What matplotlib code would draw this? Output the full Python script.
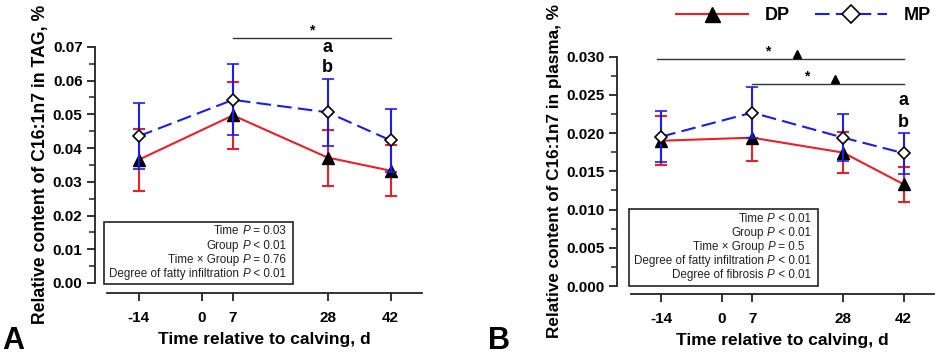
import matplotlib
matplotlib.use("Agg")
import matplotlib.pyplot as plt
from matplotlib.patches import Rectangle

plt.rcParams["font.family"] = ["Liberation Sans", "DejaVu Sans"]

days = [-14, 7, 28, 42]
xticks = [-14, 0, 7, 28, 42]

# Panel A: TAG
tag_dp = [0.0365, 0.0497, 0.0372, 0.0333]
tag_dp_err = [0.0092, 0.0100, 0.0083, 0.0076]
tag_mp = [0.0435, 0.0543, 0.0506, 0.0423]
tag_mp_err = [0.0098, 0.0105, 0.0100, 0.0093]
# (text before P, text after P)
tag_stats = [("Time ", " = 0.03"), ("Group ", " < 0.01"), ("Time \u00d7 Group ", " = 0.76"),
             ("Degree of fatty infiltration ", " < 0.01")]

# Panel B: plasma
pl_dp = [0.0190, 0.0194, 0.01745, 0.0133]
pl_dp_err = [0.0032, 0.0031, 0.0027, 0.0023]
pl_mp = [0.01954, 0.02268, 0.01941, 0.01737]
pl_mp_err = [0.0033, 0.0033, 0.0031, 0.0027]
pl_stats = [("Time ", " < 0.01"), ("Group ", " < 0.01"), ("Time \u00d7 Group ", " = 0.5"),
            ("Degree of fatty infiltration ", " < 0.01"), ("Degree of fibrosis ", " < 0.01")]

RED = "#e8202a"
BLUE = "#1c1cf0"
W, H = 941, 357


def px_axes(left, right, bottom, top):
    return [left / W, (H - bottom) / H, (right - left) / W, (bottom - top) / H]


def style_axes(ax, ytop, ymajor, fmt, left_out, bottom_out):
    ax.spines["top"].set_visible(False)
    ax.spines["right"].set_visible(False)
    ax.spines["left"].set_position(("outward", left_out))
    ax.spines["bottom"].set_position(("outward", bottom_out))
    ax.spines["left"].set_bounds(0, ytop)
    for s in ("left", "bottom"):
        ax.spines[s].set_linewidth(1.3)
        ax.spines[s].set_color("#222222")
    ax.set_xlim(-21, 49)
    ax.set_xticks(xticks)
    ax.set_xticklabels([str(t) for t in xticks], fontweight="bold", fontsize=11)
    n = int(round(ytop / ymajor))
    ax.set_yticks([i * ymajor for i in range(n + 1)])
    ax.set_yticks([(i + 0.5) * ymajor for i in range(n)], minor=True)
    ax.set_yticklabels([fmt.format(t) for t in ax.get_yticks()], fontweight="bold", fontsize=11)
    ax.tick_params(axis="both", which="major", direction="out", length=6, width=1.3, color="#222222")
    ax.tick_params(axis="x", pad=7)
    ax.tick_params(axis="y", pad=3)
    ax.tick_params(axis="y", which="minor", direction="out", length=4, width=1.1, color="#222222")


def draw_series(ax, dp, dp_err, mp, mp_err):
    a = ax.errorbar(days, dp, yerr=dp_err, color=RED, lw=1.5, elinewidth=1.5, capsize=4, capthick=1.5,
                    marker="^", ms=8, mfc="black", mec="black", label="DP", zorder=3, clip_on=False)
    b = ax.errorbar(days, mp, yerr=mp_err, color=BLUE, lw=1.5, elinewidth=1.5, capsize=4, capthick=1.5,
                    ls="--", dashes=(7, 3), marker="D", ms=6.5, mfc="white", mec="black", mew=1.2,
                    label="MP", zorder=4, clip_on=False)
    return [a.lines[0], b.lines[0]]


def stats_box(ax, lines, x0, x1, y0, y1, xr, ys, shifts):
    ax.add_patch(Rectangle((x0, y0), x1 - x0, y1 - y0, transform=ax.transAxes, fill=False,
                           ec="#222222", lw=1.2, clip_on=False, zorder=5))
    kw = dict(fontsize=8.4, color="#222222", zorder=6)
    for (pre, post), y, sh in zip(lines, ys, shifts):
        t_post = ax.text(xr - sh, y, post, transform=ax.transAxes, ha="right", va="center", **kw)
        t_p = ax.annotate("P", xy=(0, 0), xycoords=t_post, ha="right", va="bottom",
                          fontstyle="italic", **kw)
        ax.annotate(pre.rstrip(), xy=(0, 0), xycoords=t_p, xytext=(-2.2, 0),
                    textcoords="offset points", ha="right", va="bottom", **kw)


fig = plt.figure(figsize=(W / 100, H / 100), dpi=100)

# ---- Panel A
axA = fig.add_axes(px_axes(107, 422, 283, 30))
axA.set_ylim(0, 0.075)
draw_series(axA, tag_dp, tag_dp_err, tag_mp, tag_mp_err)
style_axes(axA, 0.07, 0.01, "{:.2f}", 8.6, 7.2)
axA.set_ylabel("Relative content of C16:1n7 in TAG, %", fontweight="bold", fontsize=12.7, labelpad=3)
axA.yaxis.label.set_y(0.47)
axA.set_xlabel("Time relative to calving, d", fontweight="bold", fontsize=12.5, labelpad=5)
axA.plot([7, 42], [0.0725, 0.0725], color="#333333", lw=1, clip_on=False)
axA.text(24.5, 0.0727, "*", ha="center", va="bottom", fontsize=10, fontweight="bold")
axA.text(28, 0.0697, "a", ha="center", va="center", fontsize=13, fontweight="bold")
axA.text(28, 0.0638, "b", ha="center", va="center", fontsize=13, fontweight="bold")
stats_box(axA, tag_stats, -0.01, 0.59, -0.004, 0.241, 0.568,
          [0.206, 0.148, 0.092, 0.036], [0, 0, 0, 0])

# ---- Panel B
axB = fig.add_axes(px_axes(631, 934, 286, 49))
axB.set_ylim(0, 0.031)
handles = draw_series(axB, pl_dp, pl_dp_err, pl_mp, pl_mp_err)
style_axes(axB, 0.030, 0.005, "{:.3f}", 10, 5.8)
axB.set_ylabel("Relative content of C16:1n7 in plasma, %", fontweight="bold", fontsize=12.3, labelpad=3)
axB.yaxis.label.set_y(0.485)
axB.set_xlabel("Time relative to calving, d", fontweight="bold", fontsize=12.5, labelpad=5)
axB.plot([-15, 42], [0.02967, 0.02967], color="#333333", lw=1, clip_on=False)
axB.plot([7, 42], [0.02643, 0.02643], color="#333333", lw=1, clip_on=False)
axB.text(10.6, 0.0298, "*", ha="center", va="bottom", fontsize=10, fontweight="bold")
axB.plot([17.4], [0.0303], marker="^", color="black", ms=6, clip_on=False)
axB.text(19.5, 0.02655, "*", ha="center", va="bottom", fontsize=10, fontweight="bold")
axB.plot([26.1], [0.0271], marker="^", color="black", ms=6, clip_on=False)
axB.text(42, 0.02425, "a", ha="center", va="center", fontsize=13, fontweight="bold")
axB.text(42, 0.02137, "b", ha="center", va="center", fontsize=13, fontweight="bold")
stats_box(axB, pl_stats, -0.007, 0.617, 0.0, 0.325, 0.593,
          [0.283, 0.224, 0.165, 0.106, 0.046], [0, 0, 0.02, 0, 0])

# legend at top of panel B
fig.legend(handles, ["DP", "MP"], loc="center left", bbox_to_anchor=(676 / W, (H - 16) / H), ncol=2,
           frameon=False, prop={"weight": "bold", "size": 13}, handlelength=4.0,
           columnspacing=1.4, handletextpad=0.9, borderaxespad=0, borderpad=0, markerscale=1.35)

fig.text(2 / W, 8 / H, "A", fontsize=22, fontweight="bold")
fig.text(488 / W, 8 / H, "B", fontsize=22, fontweight="bold")

fig.savefig("out.png", dpi=100)
